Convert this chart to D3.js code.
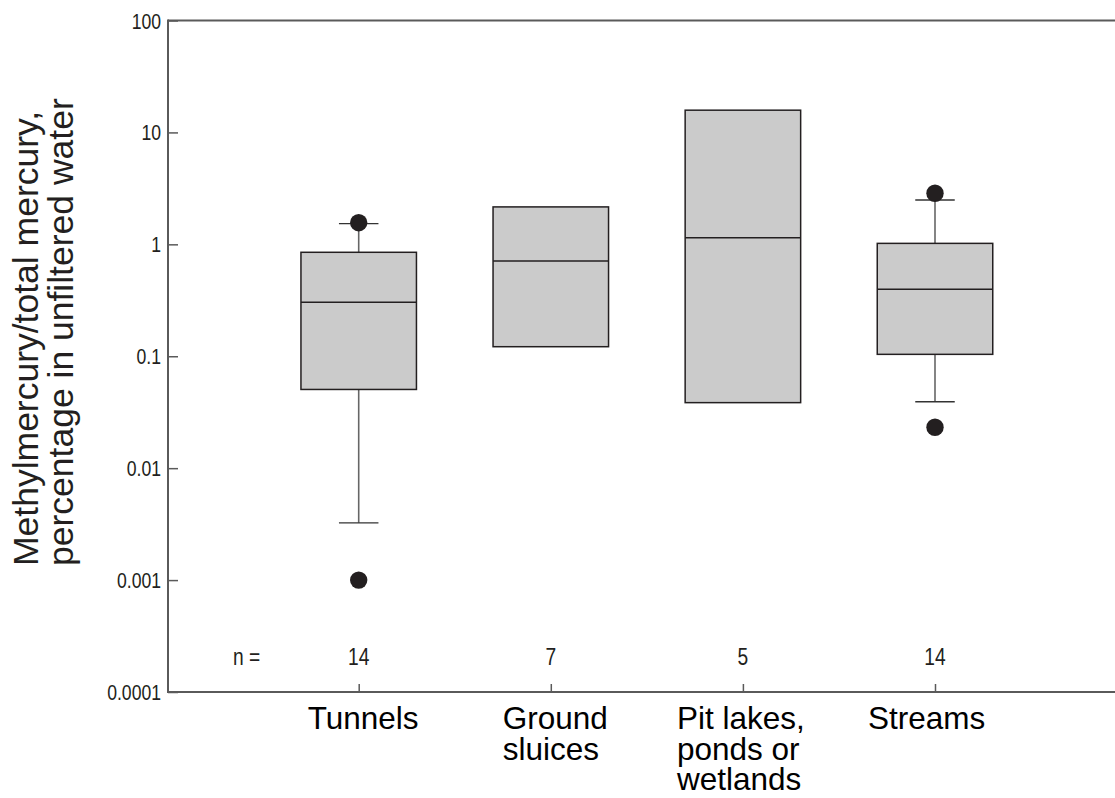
<!DOCTYPE html>
<html>
<head>
<meta charset="utf-8">
<script src="https://cdn.jsdelivr.net/npm/d3@7"></script>
<style>
  html, body { margin: 0; padding: 0; background: #fff; }
  svg { display: block; }
</style>
</head>
<body>
<svg id="chart" width="1115" height="798"></svg>
<script>
// ---- data ----
const categories = ["Tunnels", "Ground sluices", "Pit lakes, ponds or wetlands", "Streams"];
const categoryLines = [["Tunnels"], ["Ground", "sluices"], ["Pit lakes,", "ponds or", "wetlands"], ["Streams"]];
const nCounts = [14, 7, 5, 14];
const q1 = [0.0505, 0.1217, 0.0385, 0.104];
const medians = [0.303, 0.710, 1.146, 0.396];
const q3 = [0.849, 2.16, 15.8, 1.02];
const whiskerLow = [0.00325, null, null, 0.0392];
const whiskerHigh = [1.53, null, null, 2.49];
const outliers = [[1.56, 0.001], [], [], [2.86, 0.0232]];
const yTicks = [0.0001, 0.001, 0.01, 0.1, 1, 10, 100];
const yTickLabels = ["0.0001", "0.001", "0.01", "0.1", "1", "10", "100"];
const yTitleLines = ["Methylmercury/total mercury,", "percentage in unfiltered water"];

// ---- layout ----
const plotLeft = 168, plotTop = 20.5, plotBottom = 692, plotRight = 1115;
const sans = "'Liberation Sans', Arial, Helvetica, sans-serif";
const condense = 0.8;
const labelOffsets = [-51, -48, -66, -67];

const svg = d3.select("#chart");

const yScale = d3.scaleLog().domain([0.0001, 100]).range([plotBottom, plotTop]);
const xScale = d3.scalePoint().domain(categories).range([358.7, 935]);
const boxW = 115.5, capW = 39.5;

// frame: top line
svg.append("line")
  .attr("x1", plotLeft).attr("x2", plotRight).attr("y1", plotTop).attr("y2", plotTop)
  .attr("stroke", "#5a5a5a").attr("stroke-width", 2);

// left axis
const yAxis = d3.axisRight(yScale).tickValues(yTicks).tickSize(10).tickFormat("");
const gy = svg.append("g").attr("transform", `translate(${plotLeft},0)`).call(yAxis);
gy.select(".domain").remove();
gy.selectAll(".tick line").attr("stroke", "#5a5a5a").attr("stroke-width", 1.5);
svg.append("line")
  .attr("x1", plotLeft).attr("x2", plotLeft).attr("y1", plotTop - 1).attr("y2", plotBottom + 1)
  .attr("stroke", "#5a5a5a").attr("stroke-width", 2);

// y tick labels (condensed)
svg.append("g").selectAll("text").data(yTicks).join("text")
  .attr("transform", d => `translate(${plotLeft - 7},${yScale(d) + 8}) scale(${condense},1)`)
  .attr("text-anchor", "end")
  .attr("font-family", sans).attr("font-size", 22)
  .attr("fill", "#231f20")
  .text((d, i) => yTickLabels[i]);

// bottom axis
const xAxis = d3.axisTop(xScale).tickSize(8).tickFormat("");
const gx = svg.append("g").attr("transform", `translate(0,${plotBottom})`).call(xAxis);
gx.select(".domain").remove();
gx.selectAll(".tick line").attr("stroke", "#5a5a5a").attr("stroke-width", 1.5);
svg.append("line")
  .attr("x1", plotLeft - 1).attr("x2", plotRight).attr("y1", plotBottom).attr("y2", plotBottom)
  .attr("stroke", "#5a5a5a").attr("stroke-width", 2);

// rows
const rows = categories.map((c, i) => ({
  c, q1: q1[i], med: medians[i], q3: q3[i],
  lo: whiskerLow[i], hi: whiskerHigh[i], out: outliers[i]
}));

const g = svg.append("g");
const withWhisk = rows.filter(r => r.lo !== null);

// whisker stems
g.selectAll(".stemHi").data(withWhisk).join("line")
  .attr("x1", r => xScale(r.c)).attr("x2", r => xScale(r.c))
  .attr("y1", r => yScale(r.q3)).attr("y2", r => yScale(r.hi))
  .attr("stroke", "#666").attr("stroke-width", 1.6);
g.selectAll(".stemLo").data(withWhisk).join("line")
  .attr("x1", r => xScale(r.c)).attr("x2", r => xScale(r.c))
  .attr("y1", r => yScale(r.q1)).attr("y2", r => yScale(r.lo))
  .attr("stroke", "#666").attr("stroke-width", 1.6);
// caps
g.selectAll(".capHi").data(withWhisk).join("line")
  .attr("x1", r => xScale(r.c) - capW / 2).attr("x2", r => xScale(r.c) + capW / 2)
  .attr("y1", r => yScale(r.hi)).attr("y2", r => yScale(r.hi))
  .attr("stroke", "#333").attr("stroke-width", 1.3);
g.selectAll(".capLo").data(withWhisk).join("line")
  .attr("x1", r => xScale(r.c) - capW / 2).attr("x2", r => xScale(r.c) + capW / 2)
  .attr("y1", r => yScale(r.lo)).attr("y2", r => yScale(r.lo))
  .attr("stroke", "#333").attr("stroke-width", 1.3);

// boxes
g.selectAll(".box").data(rows).join("rect")
  .attr("x", r => xScale(r.c) - boxW / 2).attr("width", boxW)
  .attr("y", r => yScale(r.q3)).attr("height", r => yScale(r.q1) - yScale(r.q3))
  .attr("fill", "#cbcbcb").attr("stroke", "#231f20").attr("stroke-width", 1.5);
// medians
g.selectAll(".med").data(rows).join("line")
  .attr("x1", r => xScale(r.c) - boxW / 2).attr("x2", r => xScale(r.c) + boxW / 2)
  .attr("y1", r => yScale(r.med)).attr("y2", r => yScale(r.med))
  .attr("stroke", "#231f20").attr("stroke-width", 1.5);

// outliers
const pts = rows.flatMap(r => r.out.map(v => ({ c: r.c, v })));
g.selectAll(".out").data(pts).join("circle")
  .attr("cx", d => xScale(d.c)).attr("cy", d => yScale(d.v)).attr("r", 8.7)
  .attr("fill", "#231f20");

// n labels (condensed)
svg.append("text")
  .attr("transform", `translate(233,665) scale(${condense},1)`)
  .attr("font-family", sans).attr("font-size", 24).attr("fill", "#231f20")
  .text("n =");
svg.append("g").selectAll("text").data(categories).join("text")
  .attr("transform", d => `translate(${xScale(d)},665) scale(${condense},1)`)
  .attr("text-anchor", "middle")
  .attr("font-family", sans).attr("font-size", 24).attr("fill", "#231f20")
  .text((d, i) => nCounts[i]);

// category labels
const cl = svg.append("g").selectAll("text").data(categories).join("text")
  .attr("font-family", sans).attr("font-size", 31.5).attr("fill", "#000");
cl.each(function (d, i) {
  const t = d3.select(this);
  categoryLines[i].forEach((line, j) => {
    t.append("tspan").attr("x", xScale(d) + labelOffsets[i]).attr("y", 729 + j * 30.5).text(line);
  });
});

// y title
const yt = svg.append("text")
  .attr("transform", "translate(0,566) rotate(-90)")
  .attr("font-family", sans).attr("font-size", 35.5).attr("fill", "#231f20")
  .attr("text-anchor", "start");
yTitleLines.forEach((line, j) => {
  yt.append("tspan").attr("x", 0).attr("y", 38 + j * 35).text(line);
});
</script>
</body>
</html>
